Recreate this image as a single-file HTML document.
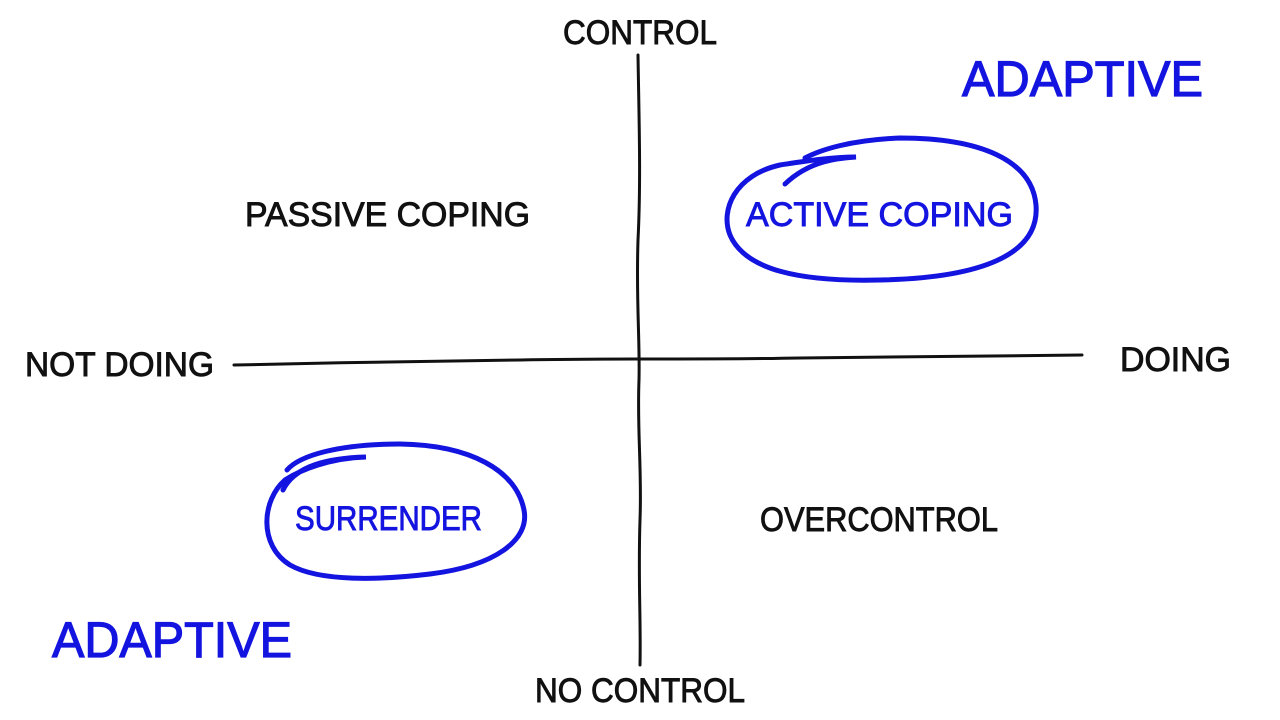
<!DOCTYPE html>
<html><head><meta charset="utf-8"><style>
html,body{margin:0;padding:0;background:#fff;}
svg{display:block;}
text{font-family:"Liberation Sans",sans-serif;}
.k{fill:#111;stroke:#111;stroke-width:0.9;font-size:34px;}
.b{fill:#1414e0;stroke:#1414e0;stroke-width:0.9;font-size:34px;}
.B{fill:#1414e0;stroke:#1414e0;stroke-width:1.2;font-size:50px;}
</style></head><body>
<svg width="1280" height="720" viewBox="0 0 1280 720">
<!-- axes -->
<path d="M638 55 C639 120 641 180 638 240 C636 300 640 340 639 380 C637 430 642 470 640 520 C638 580 641 620 640 665" fill="none" stroke="#111" stroke-width="3" stroke-linecap="round"/>
<path d="M234 365 C330 363 420 361 520 360 C620 358 700 360 800 358 C900 357 1000 356 1082 355" fill="none" stroke="#111" stroke-width="3" stroke-linecap="round"/>
<!-- ellipses -->
<path d="M785 184 C810 160 840 158 856 157 C830 157 800 162 780 165 C735 175 720 210 730 235 C745 270 800 282 880 280 C980 278 1040 255 1036 205 C1032 160 980 138 900 138 C850 140 820 150 805 158" fill="none" stroke="#1414e0" stroke-width="5" stroke-linecap="round"/>
<path d="M283 490 C295 465 330 458 366 457 C330 458 300 470 285 480 C262 500 258 545 290 565 C320 582 380 580 430 574 C495 566 530 540 524 510 C516 470 470 445 400 444 C340 444 300 455 287 470" fill="none" stroke="#1414e0" stroke-width="5" stroke-linecap="round"/>
<!-- labels -->
<text class="k" x="563" y="44" textLength="154" lengthAdjust="spacingAndGlyphs">CONTROL</text>
<text class="B" x="962" y="96" textLength="241" lengthAdjust="spacingAndGlyphs">ADAPTIVE</text>
<text class="k" x="245" y="226" textLength="285" lengthAdjust="spacingAndGlyphs">PASSIVE COPING</text>
<text class="b" x="746" y="226" textLength="267" lengthAdjust="spacingAndGlyphs">ACTIVE COPING</text>
<text class="k" x="25" y="376" textLength="189" lengthAdjust="spacingAndGlyphs">NOT DOING</text>
<text class="k" x="1120" y="371" textLength="111" lengthAdjust="spacingAndGlyphs">DOING</text>
<text class="b" x="295" y="530" textLength="187" lengthAdjust="spacingAndGlyphs">SURRENDER</text>
<text class="k" x="760" y="531" textLength="238" lengthAdjust="spacingAndGlyphs">OVERCONTROL</text>
<text class="B" x="52" y="657" textLength="240" lengthAdjust="spacingAndGlyphs">ADAPTIVE</text>
<text class="k" x="535" y="702" textLength="210" lengthAdjust="spacingAndGlyphs">NO CONTROL</text>
</svg>
</body></html>
